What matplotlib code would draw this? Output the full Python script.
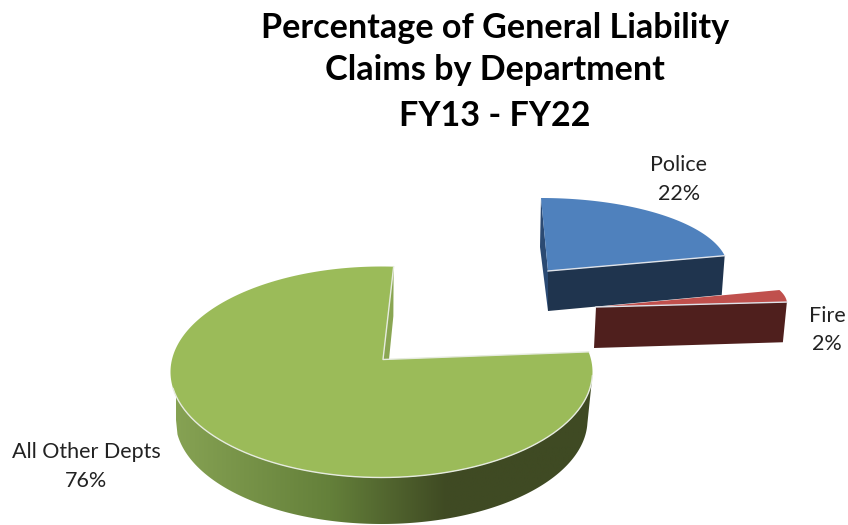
import numpy as np
import matplotlib
matplotlib.use("Agg")
import matplotlib.pyplot as plt
from matplotlib.colors import LinearSegmentedColormap
from matplotlib.patches import Polygon

plt.rcParams['font.family'] = ['Lato', 'DejaVu Sans']

title_lines = ["Percentage of General Liability", "Claims by Department", "FY13 - FY22"]
categories = ["Police", "Fire", "All Other Depts"]
percentages = [22, 2, 76]

top_colors = ["#4f81bd", "#c0504d", "#9bbb59"]

# Hand-fitted perspective layout of each exploded slice (pixel space)
layout = {
    "Police": dict(top=(541, 269, 187, 71), apex=(548, 271), bot=(540, 306, 185, 59), bapex=(548, 311),
                   warp=(0, 0), start_face="#2b4a73", end_face="#1f344e", z=1),
    "Fire": dict(top=(592, 303.8, 195, 50), apex=(596, 307), bot=(590, 344, 193, 50), bapex=(594, 348),
                 warp=(-5.2, 1.6), start_face=None, end_face="#4f1f1d", z=2),
    "All Other Depts": dict(top=(381.5, 372, 211, 105.5), apex=(383, 359.5), bot=(381.5, 420, 206, 104), bapex=(389, 359.5),
                            warp=(-7.4, 3.3), start_face=None, end_face="#8aa653", z=0),
}
label_pos = {"Police": (679, 165, 194), "Fire": (827, 316, 344), "All Other Depts": (86, 452, 481)}
title_y = [28, 70, 116]


def pt(ell, deg):
    cx, cy, rx, ry = ell
    a = np.radians(deg)
    return np.column_stack([cx + rx * np.sin(a), cy - ry * np.cos(a)])


fig = plt.figure(figsize=(8.48, 5.25), dpi=100)
ax = fig.add_axes([0, 0, 1, 1])
edge = "#e6ebdf"

rim_cmap = LinearSegmentedColormap.from_list(
    "rim", [(0.0, "#86a253"), (0.37, "#64803a"), (0.65, "#3f4a23"), (1.0, "#3f4a23")])

edges = np.cumsum([0] + percentages) * 3.6
for name, color, a0, a1 in sorted(zip(categories, top_colors, edges[:-1], edges[1:]),
                                  key=lambda s: layout[s[0]]["z"]):
    g = layout[name]
    d0, d1 = a0 + g["warp"][0], a1 + g["warp"][1]
    th = np.linspace(d0, d1, 240)
    arc = pt(g["top"], th)
    apex = np.array([g["apex"]])
    bapex = np.array([g["bapex"]])

    if name == "All Other Depts":
        # outer rim with horizontal shading
        rim_t = np.linspace(92, 262, 200)
        rim = np.vstack([pt(g["top"], rim_t), pt(g["bot"], rim_t[::-1])])
        poly = Polygon(rim, closed=True, fc="none", ec="none")
        ax.add_patch(poly)
        im = ax.imshow(np.linspace(0, 1, 256)[None, :], cmap=rim_cmap, aspect="auto",
                       extent=(176, 592, 525, 370), zorder=1)
        im.set_clip_path(poly)
        # inner cut face at the end of the sweep
        ax.add_patch(Polygon(np.vstack([arc[-1:], apex, bapex, pt(g["bot"], [d1])]),
                             fc=g["end_face"], ec="none", zorder=1))
        ax.add_patch(Polygon(np.vstack([apex, arc]), fc=color, ec="none", zorder=2))
        ax.plot(*np.vstack([arc[-1:], apex, arc[:1]]).T, color=edge, lw=1, zorder=3)
        front = arc[(th > 92) & (th < 262)]
        ax.plot(*front.T, color=edge, lw=1, zorder=3)
    else:
        z = 4 + g["z"]
        if g["start_face"]:
            ax.add_patch(Polygon(np.vstack([arc[:1], apex, bapex, pt(g["bot"], [d0])]),
                                 fc=g["start_face"], ec="none", zorder=z))
        ax.add_patch(Polygon(np.vstack([apex, arc[-1:], pt(g["bot"], [d1]), bapex]),
                             fc=g["end_face"], ec="none", zorder=z))
        ax.add_patch(Polygon(np.vstack([apex, arc]), fc=color, ec="none", zorder=z))
        ax.plot(*np.vstack([apex, arc[-1:]]).T, color="#dfe3ea", lw=1, zorder=z)

for line, y in zip(title_lines, title_y):
    ax.text(495, y, line, ha="center", va="center", fontsize=24.6, fontweight="bold", color="black")

for name, pct in zip(categories, percentages):
    x, y1, y2 = label_pos[name]
    ax.text(x, y1, name, ha="center", va="center", fontsize=15.5, color="#222222")
    ax.text(x, y2, f"{pct}%", ha="center", va="center", fontsize=15.5, color="#222222")

ax.set_xlim(0, 848)
ax.set_ylim(525, 0)
ax.axis("off")
fig.savefig("out.png", dpi=100)
